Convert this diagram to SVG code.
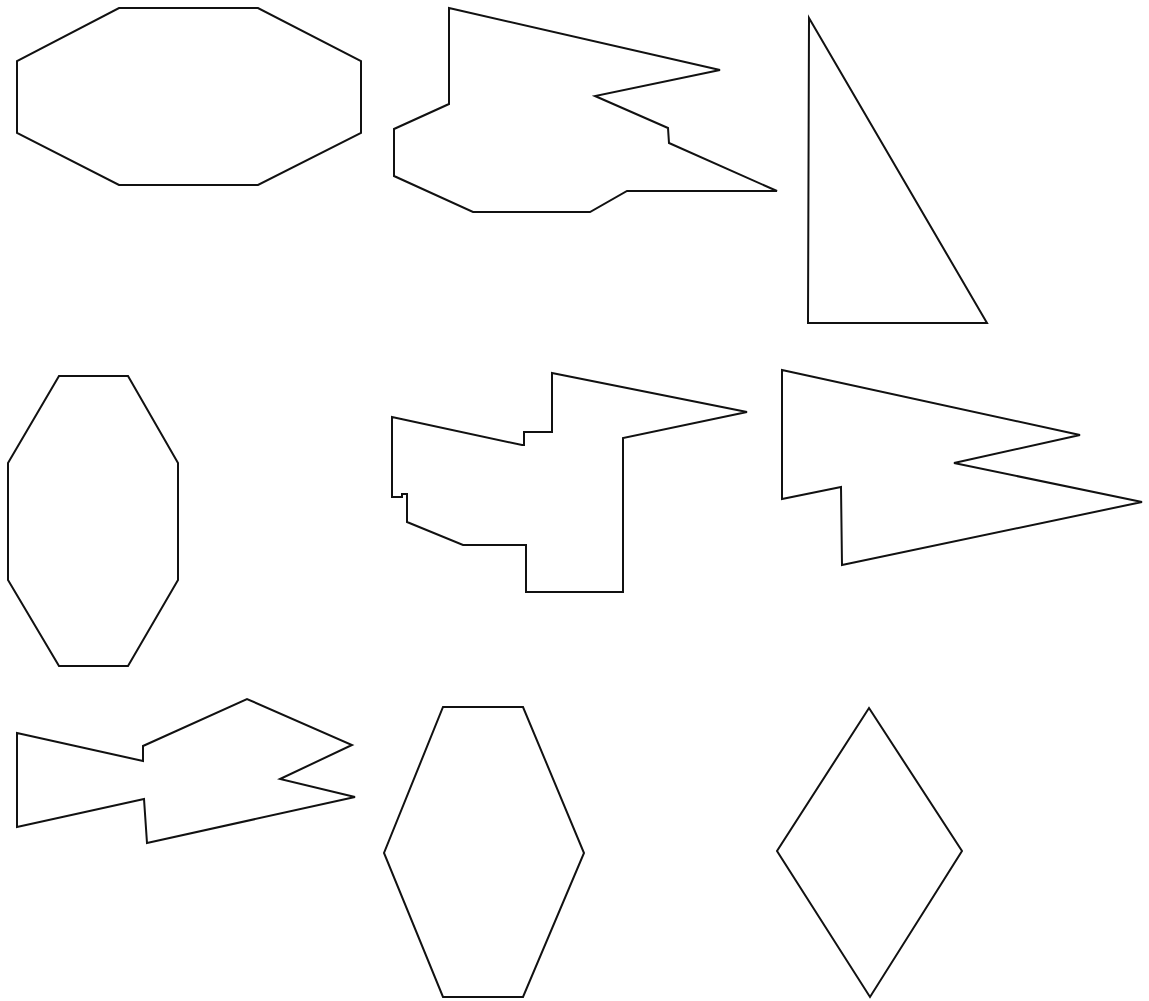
<svg xmlns="http://www.w3.org/2000/svg" width="1149" height="1001" viewBox="0 0 1149 1001">
<style>
.s{fill:none;stroke:#111;stroke-width:2;stroke-linejoin:miter}
</style>
<rect width="1149" height="1001" fill="#fff"/>
<polygon id="octagon-wide" class="s" points="119,8 258,8 361,61 361,133 258,185 119,185 17,133 17,61"/>
<polygon id="shape-top-middle" class="s" points="449,8 720,70 595,96 668,128 669,143 777,191 627,191 590,212 473,212 394,176 394,129 449,104"/>
<polygon id="triangle" class="s" points="809,18 987,323 808,323"/>
<polygon id="octagon-tall" class="s" points="59,376 128,376 178,463 178,580 128,666 59,666 8,580 8,463"/>
<polygon id="shape-center" class="s" points="552,373 747,412 623,438 623,592 526,592 526,545 463,545 407,522 407,494 402,494 402,497 392,497 392,417 522,445 524,445 524,432 552,432"/>
<polygon id="shape-right-middle" class="s" points="782,370 1080,435 954,463 1142,502 842,565 841,487 782,499"/>
<polygon id="shape-fish" class="s" points="17,733 143,761 143,746 247,699 352,745 280,779 355,797 147,843 144,799 17,827"/>
<polygon id="hexagon" class="s" points="443,707 523,707 584,853 523,997 443,997 384,853"/>
<polygon id="diamond" class="s" points="869,708 962,851 870,997 777,851"/>
</svg>
